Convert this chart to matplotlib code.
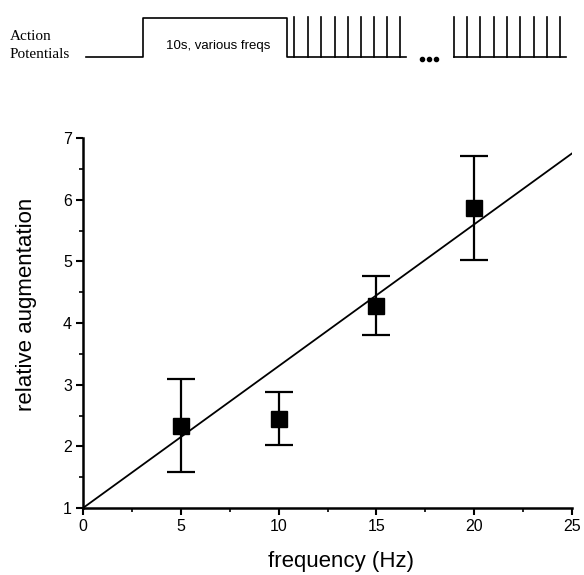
import matplotlib
matplotlib.use("Agg")
import matplotlib.pyplot as plt
from matplotlib.ticker import MultipleLocator

# data
freq = [5, 10, 15, 20]
augmentation = [2.33, 2.44, 4.28, 5.86]
err_low = [0.74, 0.42, 0.48, 0.84]
err_high = [0.76, 0.44, 0.48, 0.85]
fit_x = [0, 25]
fit_intercept = 1.0
fit_slope = 0.23
x_ticks = [0, 5, 10, 15, 20, 25]
y_ticks = [1, 2, 3, 4, 5, 6, 7]

# schematic (figure pixel coordinates)
train1_spikes = [294, 308, 321, 335, 348, 361, 374, 387, 400]
train2_spikes = [454, 467, 480, 494, 507, 520, 534, 547, 560]

plt.rcParams['font.family'] = ['Liberation Sans', 'DejaVu Sans']

W, H = 584, 575
fig = plt.figure(figsize=(W / 100, H / 100), dpi=100)

ax = fig.add_axes([83 / W, 1 - 508 / H, (572 - 83) / W, (508 - 138) / H])
fit_y = [fit_intercept + fit_slope * x for x in fit_x]
ax.plot(fit_x, fit_y, color='black', lw=1.3, zorder=2)
ax.errorbar(freq, augmentation, yerr=[err_low, err_high], fmt='s', color='black',
            ms=11.5, elinewidth=1.6, capsize=10, capthick=1.6, zorder=3)

ax.set_xlim(0, 25)
ax.set_ylim(1, 7)
ax.set_xticks(x_ticks)
ax.set_yticks(y_ticks)
ax.xaxis.set_minor_locator(MultipleLocator(2.5))
ax.yaxis.set_minor_locator(MultipleLocator(0.5))
ax.tick_params(which='major', direction='out', length=5, width=1.5, labelsize=11.5, pad=3)
ax.tick_params(which='minor', direction='out', length=3, width=1.2)
for s in ['top', 'right']:
    ax.spines[s].set_visible(False)
for s in ['left', 'bottom']:
    ax.spines[s].set_linewidth(1.8)
ax.set_xlabel('frequency (Hz)', fontsize=16)
ax.xaxis.set_label_coords(0.528, -0.115)
ax.set_ylabel('relative augmentation', fontsize=16)
ax.yaxis.set_label_coords(-0.094, 0.55)

# schematic overlay
ov = fig.add_axes([0, 0, 1, 1], zorder=-1)
ov.set_xlim(0, W)
ov.set_ylim(H, 0)
ov.axis('off')
base, top = 56.5, 17.5
lw = 1.2
ov.plot([86, 143, 143, 287, 287, 406], [base, base, top, top, base, base], color='black', lw=lw)
for x in train1_spikes:
    ov.plot([x, x], [base, top - 0.5], color='black', lw=lw)
ov.plot([454, 566], [base, base], color='black', lw=lw)
for x in train2_spikes:
    ov.plot([x, x], [base, top - 0.5], color='black', lw=lw)
ov.plot([422, 429, 436], [58.5, 58.5, 58.5], 'o', color='black', ms=3)
ov.text(218, 46.5, '10s, various freqs', ha='center', va='center', fontsize=9.5)
ov.text(10, 36.5, 'Action', ha='left', va='center', fontsize=11,
        family=['Liberation Serif', 'DejaVu Serif'])
ov.text(10, 54.5, 'Potentials', ha='left', va='center', fontsize=11,
        family=['Liberation Serif', 'DejaVu Serif'])

fig.savefig('out.png', dpi=100)
